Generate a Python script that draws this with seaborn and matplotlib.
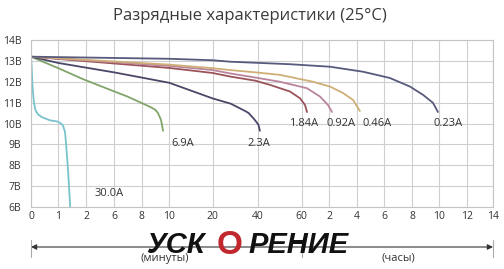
import numpy as np
import pandas as pd
import seaborn as sns
import matplotlib.pyplot as plt
from matplotlib.lines import Line2D

# time axis: minutes up to 60, then hours (values kept in minutes)
tick_min = [0, 1, 2, 6, 8, 10, 20, 40, 60, 120, 240, 360, 480, 600, 720, 840]
tick_lbl = ["0", "1", "2", "6", "8", "10", "20", "40", "60",
            "2", "4", "6", "8", "10", "12", "14"]
volt_ticks = [6, 7, 8, 9, 10, 11, 12, 13, 14]

# discharge curves: time (min) / voltage (V)
t_30 = [0, 0.02, 0.04, 0.07, 0.11, 0.16, 0.25, 0.4, 0.7, 0.95, 1.1, 1.17, 1.24, 1.27, 1.35, 1.43]
v_30 = [13.2, 12.8, 12.2, 11.5, 11.0, 10.65, 10.45, 10.3, 10.15, 10.1, 10.0, 9.9, 9.6, 9.2, 7.8, 6.0]
t_69 = [0, 1, 1.9, 6, 6.94, 8.0, 8.6, 9.0, 9.18, 9.4, 9.55]
v_69 = [13.2, 12.65, 12.12, 11.54, 11.3, 10.98, 10.8, 10.65, 10.5, 10.17, 9.65]
t_23 = [0, 1, 6, 8, 10, 20, 28, 34.4, 36, 38.5, 40.3, 41]
v_23 = [13.2, 12.9, 12.45, 12.2, 11.95, 11.2, 10.95, 10.6, 10.5, 10.2, 9.95, 9.65]
t_184 = [0, 10, 20, 27.7, 39, 45.6, 54.7, 59.2, 67.2, 71.5]
v_184 = [13.2, 12.66, 12.42, 12.25, 12.05, 11.85, 11.53, 11.21, 10.89, 10.55]
t_092 = [0, 10, 20, 27.7, 39, 50.1, 71.5, 99.8, 117, 132]
v_092 = [13.2, 12.76, 12.56, 12.4, 12.2, 12.0, 11.69, 11.29, 10.89, 10.55]
t_046 = [0, 10, 20, 27.7, 39, 50.1, 84.6, 123, 180, 224, 254]
v_046 = [13.2, 12.82, 12.65, 12.56, 12.45, 12.33, 12.0, 11.77, 11.46, 11.13, 10.6]
t_0023 = [0, 10, 20, 27.7, 54.7, 123, 268, 385, 470, 528, 572, 594]
v_0023 = [13.2, 13.1, 13.03, 12.96, 12.84, 12.72, 12.48, 12.18, 11.77, 11.37, 10.99, 10.55]

names = ["30.0A", "6.9A", "2.3A", "1.84A", "0.92A", "0.46A", "0.23A"]
times = [t_30, t_69, t_23, t_184, t_092, t_046, t_0023]
volts = [v_30, v_69, v_23, v_184, v_092, v_046, v_0023]
colors = ["#79c3cc", "#80a56a", "#4a4868", "#9a5358", "#b9849c", "#cfae77", "#575a7c"]

# grid line positions (pixels) used for the piecewise time scale
grid_px = [31, 58.3, 86, 114, 141.7, 169.3, 212.7, 257.7, 301.7,
           329.3, 356.7, 384, 412.3, 439.3, 466.7, 493.3]

rows = []
for n, ts, vs in zip(names, times, volts):
    for t, v in zip(ts, vs):
        rows.append({"ток": n, "t": t, "v": v})
df = pd.DataFrame(rows)

sns.set_style("white")
plt.rcParams['font.family'] = ['Open Sans', 'DejaVu Sans']

W, H = 504, 269
fig = plt.figure(figsize=(W / 100, H / 100), dpi=100)
ax = fig.add_axes([31 / W, 1 - 207 / H, (493.3 - 31) / W, 167 / H])

fwd = lambda x: np.interp(x, tick_min, grid_px)
inv = lambda p: np.interp(p, grid_px, tick_min)
ax.set_xscale('function', functions=(fwd, inv))

sns.lineplot(data=df, x="t", y="v", hue="ток", palette=dict(zip(names, colors)),
             estimator=None, sort=False, lw=1.3, legend=False, ax=ax)
for ln in ax.get_lines():
    ln.set_solid_joinstyle("round")

ax.set_xlim(0, 840)
ax.set_ylim(6, 14)
ax.set_xticks(tick_min, tick_lbl)
ax.set_yticks(volt_ticks, [f"{v}В" for v in volt_ticks])
ax.set_xlabel("")
ax.set_ylabel("")
ax.grid(True, color="#cfcfcf", lw=0.8)
for s in ax.spines.values():
    s.set_color("#c4c4c4")
    s.set_linewidth(0.8)
ax.tick_params(length=0, labelsize=7.5, labelcolor="#333333")
ax.tick_params(axis="y", pad=7)
ax.tick_params(axis="x", pad=3)

# curve labels
lab_pos = {"30.0A": (5.3, 6.65), "6.9A": (13.0, 9.05), "2.3A": (40.5, 9.05),
           "1.84A": (65, 10.0), "0.92A": (170, 10.0), "0.46A": (330, 10.0),
           "0.23A": (640, 10.0)}
for n in names:
    x, y = lab_pos[n]
    ax.text(x, y, n, ha="center", va="center", fontsize=8, color="#333333")

fig.text(250 / W, 1 - 16 / H, "Разрядные характеристики (25°C)", ha="center",
         va="center", fontsize=12, color="#3a3a3a")

# bottom arrow and captions
ya = 1 - 247 / H
ax.annotate("", xy=(493 / W, ya), xytext=(31 / W, ya), xycoords="figure fraction",
            textcoords="figure fraction",
            arrowprops=dict(arrowstyle="<|-|>", color="#333333", lw=0.8,
                            mutation_scale=8, shrinkA=0, shrinkB=0))
for px in [31, 302, 493]:
    fig.add_artist(Line2D([px / W, px / W], [1 - 240 / H, 1 - 257 / H],
                          color="#aaaaaa", lw=0.8))
fig.text(165 / W, 1 - 258 / H, "(минуты)", ha="center", va="center",
         fontsize=8, color="#333333")
fig.text(398 / W, 1 - 258 / H, "(часы)", ha="center", va="center",
         fontsize=8, color="#333333")

# watermark logo
fig.text(205 / W, 1 - 245 / H, "УСК", ha="right", va="center", fontsize=21,
         fontweight="bold", fontstyle="italic", color="#111111",
         family=["Liberation Sans", "DejaVu Sans"])
fig.text(230 / W, 1 - 245 / H, "О", ha="center", va="center", fontsize=24,
         fontweight="bold", color="#c0282d",
         family=["Liberation Sans", "DejaVu Sans"])
fig.text(248 / W, 1 - 245 / H, "РЕНИЕ", ha="left", va="center", fontsize=21,
         fontweight="bold", fontstyle="italic", color="#111111",
         family=["Liberation Sans", "DejaVu Sans"])

fig.savefig("out.png", dpi=100)
